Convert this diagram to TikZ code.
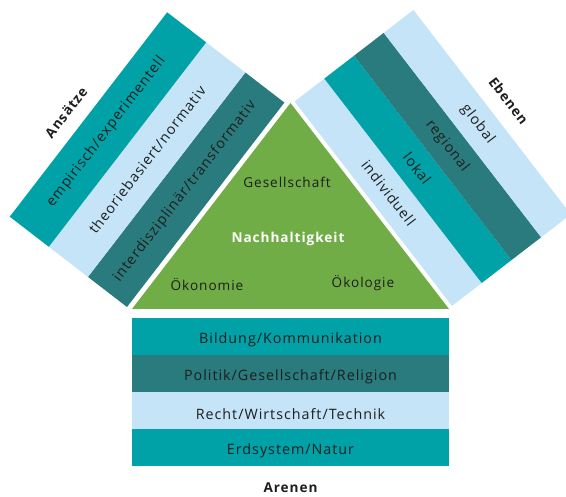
\documentclass[tikz,border=0pt]{standalone}
\usepackage{fontspec}
\setmainfont{Open Sans}[LetterSpace=7]
\definecolor{tealA}{HTML}{00A2A7}
\definecolor{tealD}{HTML}{2A7B7D}
\definecolor{blueL}{HTML}{C5E4F8}
\definecolor{greenT}{HTML}{70AD47}
\definecolor{txt}{HTML}{1E1E1E}
\begin{document}
\begin{tikzpicture}[x=1pt,y=1pt,
  lbl/.style={font=\fontsize{14.3}{16}\selectfont, text=txt, inner sep=0pt},
  tlbl/.style={font=\fontsize{13.6}{16}\selectfont, text=txt, inner sep=0pt},
  ttl/.style={font=\fontsize{13.6}{16}\selectfont\bfseries, text=txt, inner sep=0pt},
  wlbl/.style={font=\fontsize{13.6}{16}\selectfont\bfseries, text=white, inner sep=0pt}]
\useasboundingbox (0,0) rectangle (566,497);
% triangle
\fill[greenT] (132,188) -- (449,188) -- (290.5,394) -- cycle;
\node[tlbl] (ges) at (287,315) {Gesellschaft};
\node[wlbl] (nach) at (288,258) {Nachhaltigkeit};
\node[tlbl] (oekon) at (207,212) {Ökonomie};
\node[tlbl] (oekol) at (363,214) {Ökologie};
% left block
\begin{scope}[shift={(127,190)}, rotate=52.4]
  \fill[tealD] (0,0) rectangle (258,49.3);
  \fill[blueL] (0,49.3) rectangle (258,98.7);
  \fill[tealA] (0,98.7) rectangle (258,148);
  \node[lbl, rotate=52.4] (interd) at (127,24.7) {interdisziplinär/transformativ};
  \node[lbl, rotate=52.4] (theo) at (129,74) {theoriebasiert/normativ};
  \node[lbl, rotate=52.4] (empi) at (126,123.3) {empirisch/experimentell};
  \node[ttl, rotate=52.4] (ans) at (117,167) {Ansätze};
\end{scope}
% right block
\begin{scope}[shift={(294.6,395.5)}, rotate=-52.4]
  \fill[blueL] (0,0) rectangle (258,37.5);
  \fill[tealA] (0,37.5) rectangle (258,75);
  \fill[tealD] (0,75) rectangle (258,112.5);
  \fill[blueL] (0,112.5) rectangle (258,150);
  \node[lbl, rotate=-52.4] (indiv) at (130,18.75) {individuell};
  \node[lbl, rotate=-52.4] (lokal) at (128,56.25) {lokal};
  \node[lbl, rotate=-52.4] (regio) at (128.5,93.75) {regional};
  \node[lbl, rotate=-52.4] (glob) at (129.7,131.25) {global};
  \node[ttl, rotate=-52.4] (ebenen) at (130,170) {Ebenen};
\end{scope}
% bottom block
\fill[tealA] (132,142) rectangle (449,179);
\fill[tealD] (132,105) rectangle (449,142);
\fill[blueL] (132,68) rectangle (449,105);
\fill[tealA] (132,31) rectangle (449,68);
\node[lbl] (bild) at (290.5,157) {Bildung/Kommunikation};
\node[lbl] (poli) at (290.5,120) {Politik/Gesellschaft/Religion};
\node[lbl] (recht) at (290.5,83) {Recht/Wirtschaft/Technik};
\node[lbl] (erd) at (290.5,46) {Erdsystem/Natur};
\node[ttl] (arenen) at (290.5,9) {Arenen};
\end{tikzpicture}
\end{document}
